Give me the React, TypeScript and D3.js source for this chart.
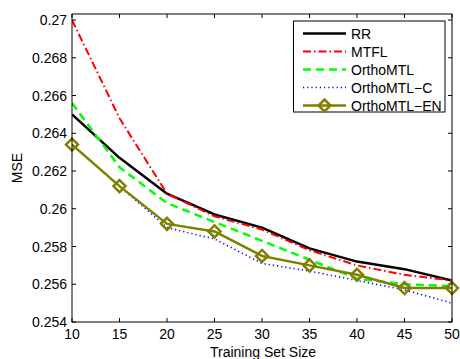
import React from "react";
import * as d3 from "d3";

const sizes = [10, 15, 20, 25, 30, 35, 40, 45, 50];
const rr = [0.265, 0.2627, 0.2608, 0.2597, 0.259, 0.2579, 0.2572, 0.2568, 0.2562];
const mtfl = [0.27, 0.2648, 0.2608, 0.2596, 0.2589, 0.2578, 0.257, 0.2565, 0.2562];
const orthoMTL = [0.2656, 0.2622, 0.2603, 0.2593, 0.2583, 0.2573, 0.2563, 0.256, 0.2559];
const orthoMTLC = [0.2634, 0.2612, 0.259, 0.2584, 0.2571, 0.2567, 0.2562, 0.2557, 0.255];
const orthoMTLEN = [0.2634, 0.2612, 0.2592, 0.2588, 0.2575, 0.257, 0.2565, 0.2558, 0.2558];
const xTicks = [10, 15, 20, 25, 30, 35, 40, 45, 50];
const yTicks = [0.254, 0.256, 0.258, 0.26, 0.262, 0.264, 0.266, 0.268, 0.27];
const yTickLabels = ["0.254", "0.256", "0.258", "0.26", "0.262", "0.264", "0.266", "0.268", "0.27"];

const series = [
  { name: "RR", values: rr, color: "#000000", width: 2.5, dash: "" },
  { name: "MTFL", values: mtfl, color: "#ff0000", width: 2, dash: "8,3,1.5,3" },
  { name: "OrthoMTL", values: orthoMTL, color: "#00ff00", width: 2.5, dash: "8,5" },
  { name: "OrthoMTL\u2212C", values: orthoMTLC, color: "#0000ff", width: 1.6, dash: "1.2,3" },
  { name: "OrthoMTL\u2212EN", values: orthoMTLEN, color: "#808000", width: 2.5, dash: "", marker: true },
];

const L = 72, R = 452, T = 14, B = 322;

export default function App() {
  const x = d3.scaleLinear().domain([10, 50]).range([L, R]);
  const y = d3.scaleLinear().domain([0.254, 0.27032]).range([B, T]);
  const line = d3.line<number>().x((_, i) => x(sizes[i])).y((v) => y(v));
  const font = "'Liberation Sans', Arial, sans-serif";
  const diamond = (cx: number, cy: number, r: number) =>
    `M${cx},${cy - r}L${cx + r},${cy}L${cx},${cy + r}L${cx - r},${cy}Z`;
  const tl = 4;
  const lgX = 293.5, lgY = 21, lgW = 151.5, lgH = 91;
  return (
    <svg width={460} height={359} style={{ position: "absolute", left: 0, top: 0, background: "#fff" }}>
      <rect x={0} y={0} width={460} height={359} fill="#fff" />
      <defs>
        <clipPath id="plot">
          <rect x={L} y={T} width={R - L} height={B - T} />
        </clipPath>
      </defs>
      {xTicks.map((t) => (
        <g key={"xt" + t}>
          <line x1={x(t)} x2={x(t)} y1={B} y2={B - tl} stroke="#000" strokeWidth={1} />
          <line x1={x(t)} x2={x(t)} y1={T} y2={T + tl} stroke="#000" strokeWidth={1} />
          <text x={x(t)} y={B + 17} fontSize={14} fontFamily={font} textAnchor="middle">{t}</text>
        </g>
      ))}
      {yTicks.map((t, i) => (
        <g key={"yt" + t}>
          <line x1={L} x2={L + tl} y1={y(t)} y2={y(t)} stroke="#000" strokeWidth={1} />
          <line x1={R} x2={R - tl} y1={y(t)} y2={y(t)} stroke="#000" strokeWidth={1} />
          <text x={L - 5} y={y(t) + 5} fontSize={14} fontFamily={font} textAnchor="end">{yTickLabels[i]}</text>
        </g>
      ))}
      <g clipPath="url(#plot)">
        {series.map((s) => (
          <path key={s.name} d={line(s.values) || ""} fill="none" stroke={s.color} strokeWidth={s.width}
            strokeDasharray={s.dash || undefined} strokeLinejoin="round" />
        ))}
      </g>
      {orthoMTLEN.map((v, i) => (
        <path key={"m" + i} d={diamond(x(sizes[i]), y(v), 6)} fill="none" stroke="#808000" strokeWidth={2.5} />
      ))}
      <rect x={L} y={T} width={R - L} height={B - T} fill="none" stroke="#000" strokeWidth={1} />
      <rect x={lgX} y={lgY} width={lgW} height={lgH} fill="#fff" stroke="#000" strokeWidth={1} />
      {series.map((s, i) => {
        const cy = 33.5 + i * 18;
        return (
          <g key={"lg" + s.name}>
            <line x1={303} x2={346} y1={cy} y2={cy} stroke={s.color} strokeWidth={s.width}
              strokeDasharray={s.dash || undefined} />
            {s.marker && <path d={diamond(324.5, cy, 6)} fill="none" stroke={s.color} strokeWidth={2.5} />}
            <text x={351} y={cy + 5} fontSize={14} fontFamily={font}>{s.name}</text>
          </g>
        );
      })}
      <text x={(L + R) / 2 + 1} y={357} fontSize={14} fontFamily={font} textAnchor="middle">Training Set Size</text>
      <text transform={`translate(22,${(T + B) / 2}) rotate(-90)`} fontSize={14} fontFamily={font} textAnchor="middle">MSE</text>
    </svg>
  );
}
